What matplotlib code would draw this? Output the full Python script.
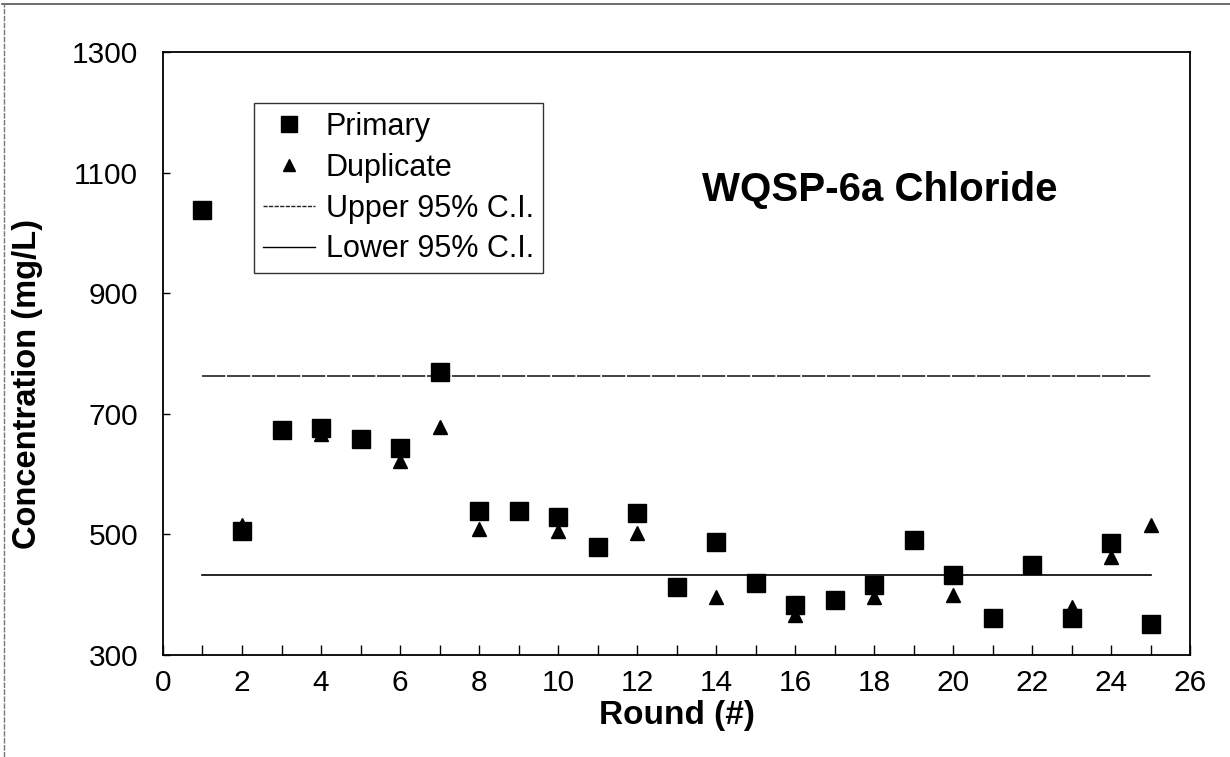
import matplotlib
matplotlib.use("Agg")
import matplotlib.pyplot as plt
from matplotlib.lines import Line2D

plt.rcParams['font.family'] = ['Liberation Sans', 'DejaVu Sans']

rounds_primary = list(range(1, 26))
primary = [1038, 506, 673, 676, 659, 643, 769, 539, 539, 529, 479, 535, 413,
           487, 420, 383, 391, 416, 491, 433, 362, 450, 362, 486, 351]
rounds_dup = [2, 4, 6, 7, 8, 10, 12, 14, 16, 18, 20, 21, 22, 23, 24, 25]
duplicate = [515, 666, 622, 678, 509, 505, 503, 397, 366, 397, 400, 362, 448, 380, 463, 515]
ci_x = [1, 25]
upper_ci = [763, 763]
lower_ci = [432, 432]

title = "WQSP-6a Chloride"
x_label = "Round (#)"
y_label = "Concentration (mg/L)"
x_ticks = list(range(0, 27, 2))
y_ticks = [300, 500, 700, 900, 1100, 1300]

fig = plt.figure(figsize=(12.3, 7.57), dpi=100)
ax = fig.add_axes([163/1230, 102/757, (1190-163)/1230, (655-52)/757])

ax.plot(ci_x, upper_ci, color='#222222', lw=1.2, linestyle=(0, (14, 1)), label='Upper 95% C.I.')
ax.plot(ci_x, lower_ci, color='black', lw=1.2, label='Lower 95% C.I.')
ax.plot(rounds_primary, primary, linestyle='none', marker='s', markersize=13.5,
        color='black', label='Primary', zorder=3)
ax.plot(rounds_dup, duplicate, linestyle='none', marker='^', markersize=10.5,
        color='black', label='Duplicate', zorder=2)

ax.set_xlim(0, 26)
ax.set_ylim(300, 1300)
ax.set_xticks(range(0, 27))
ax.set_xticklabels([str(v) if v in x_ticks else '' for v in range(0, 27)])
ax.set_yticks(y_ticks)
ax.tick_params(axis='x', direction='in', length=7, width=1, labelsize=21.5, pad=10)
ax.tick_params(axis='y', direction='in', length=5, width=1, labelsize=21.5, pad=18)
for s in ax.spines.values():
    s.set_linewidth(1.3)

ax.set_xlabel(x_label, fontsize=24, fontweight='bold', labelpad=2)
ax.set_ylabel(y_label, fontsize=23.5, fontweight='bold', va='center')
ax.yaxis.set_label_coords((28 - 163) / 1027, (655 - 384) / 603)

ax.text(18.15, 1071, title, fontsize=29, fontweight='bold', ha='center', va='center')

handles = [
    Line2D([], [], linestyle='none', marker='s', markersize=11, color='black'),
    Line2D([], [], linestyle='none', marker='^', markersize=8.5, color='black'),
    Line2D([], [], color='#222222', lw=1.0, linestyle=(0, (3, 1))),
    Line2D([], [], color='black', lw=1.0),
]
labels = ['Primary', 'Duplicate', 'Upper 95% C.I.', 'Lower 95% C.I.']
leg = ax.legend(handles, labels, loc='upper left', bbox_to_anchor=((254-163)/1027, (655-103)/603),
                fontsize=22, frameon=True, fancybox=False, edgecolor='black',
                handlelength=1.7, handletextpad=0.35, labelspacing=0.35,
                borderpad=0.3, borderaxespad=0)
leg.get_frame().set_linewidth(1.0)

# figure border lines (top and left)
fig.add_artist(Line2D([0.002, 1.0], [0.995, 0.995], color='#555555', lw=1.2, transform=fig.transFigure))
fig.add_artist(Line2D([0.003, 0.003], [0.0, 0.995], color='#777777', lw=1.0, linestyle=(0, (4, 1)),
                      transform=fig.transFigure))

fig.savefig('out.png', dpi=100)
